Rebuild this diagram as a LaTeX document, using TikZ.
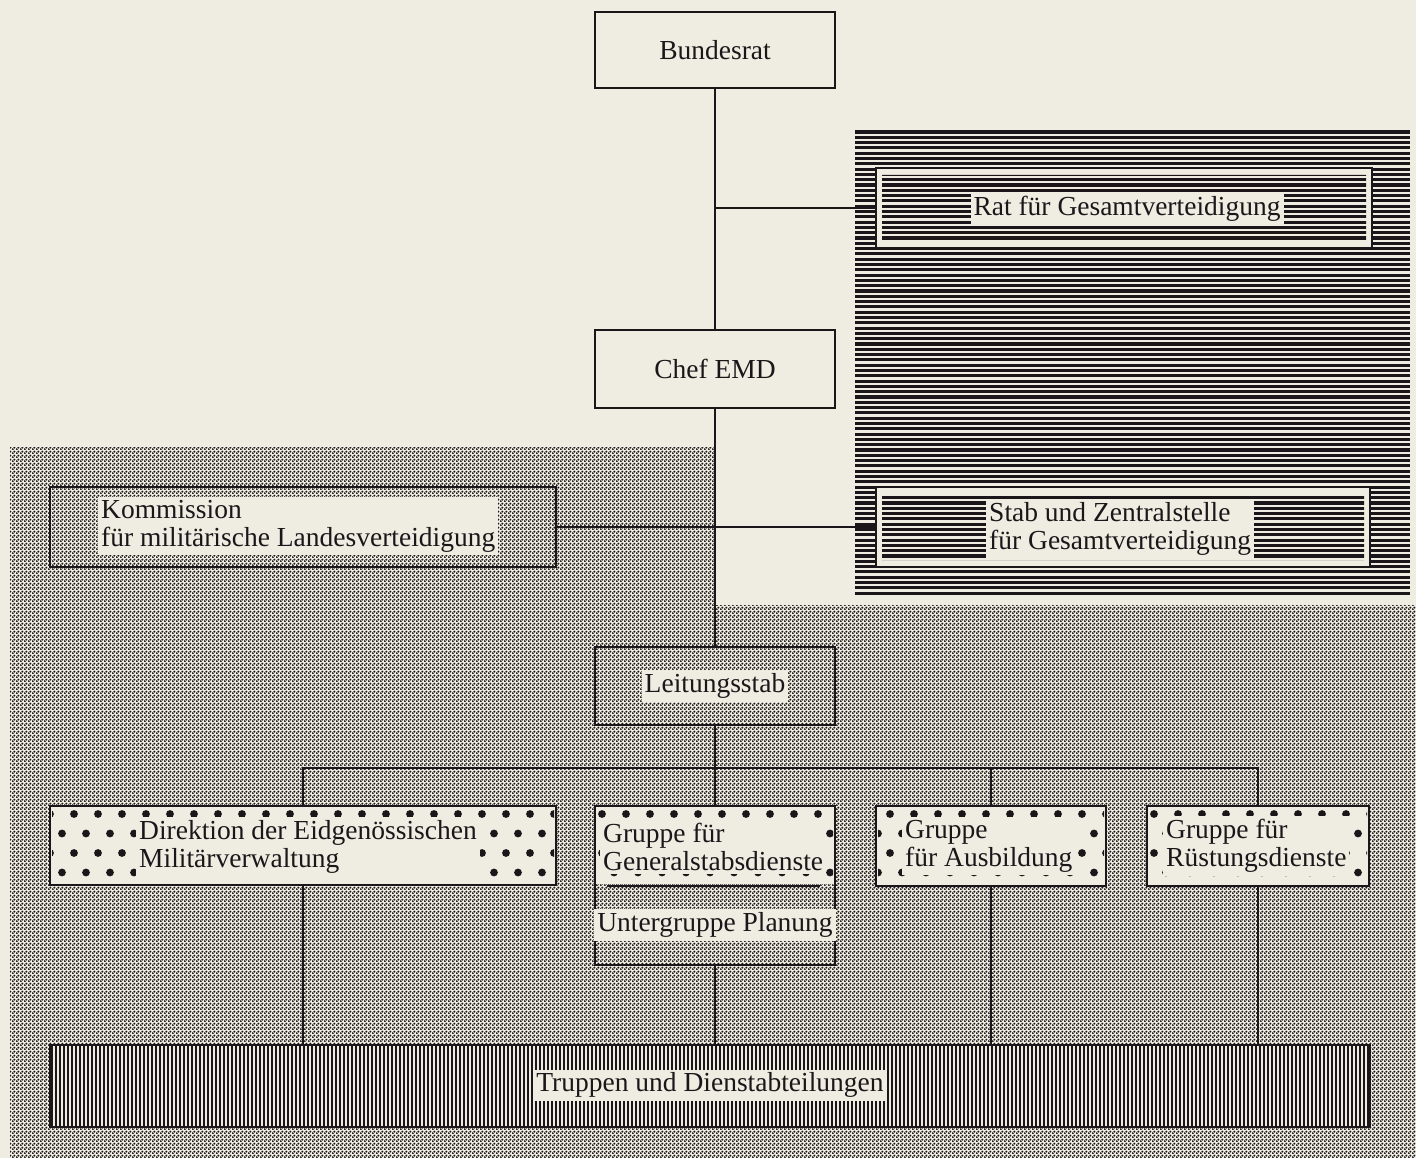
\documentclass[tikz,border=0pt]{standalone}
\usepackage{fontspec}
\setmainfont{Liberation Serif}
\usetikzlibrary{patterns.meta}

\definecolor{paper}{RGB}{239,236,225}
\definecolor{ink}{RGB}{28,22,26}

\tikzdeclarepattern{
  name=halftone,
  type=uncolored,
  bottom left={(0pt,0pt)},
  top right={(4pt,4pt)},
  tile size={(4pt,4pt)},
  code={
    \fill (1pt,1pt) circle [radius=1.35pt];
    \fill (3pt,3pt) circle [radius=1.35pt];
  }
}

\begin{document}
\begin{tikzpicture}[x=1pt,y=-1pt,
    box/.style={draw=ink, line width=2.4pt, inner sep=0pt, outer sep=0pt},
    lbl/.style={fill=paper, text=ink, inner sep=3pt, align=left,
      font=\fontsize{27.5}{28}\selectfont},
    wire/.style={draw=ink, line width=2pt}]
  \fill[paper] (0,0) rectangle (1416,1158);
  \useasboundingbox (0,0) rectangle (1416,1158);
  % raster grounds
  \fill[pattern=halftone, pattern color=ink] (10,447) -- (715,447) -- (715,605)
    -- (1416,605) -- (1416,1158) -- (10,1158) -- cycle;
  \foreach \y in {132,137.3,...,598}
    \draw[ink, line width=3.1pt] (855,\y) -- (1410,\y);

  % boxes
  \node[box, fill=paper, minimum width=240pt, minimum height=76pt, text=ink,
    font=\fontsize{27.5}{28}\selectfont] (bundesrat) at (715,50) {Bundesrat};
  \node[box, fill=paper, minimum width=240pt, minimum height=78pt, text=ink,
    font=\fontsize{27.5}{28}\selectfont] (chef) at (715,369) {Chef EMD};
  \node[box, fill=paper, minimum width=496pt, minimum height=80pt] (rat) at (1124,208) {};
  \node[box, fill=paper, minimum width=494pt, minimum height=80pt] (stab) at (1123,527) {};
  \node[box, minimum width=506pt, minimum height=80pt] (komm) at (303,527) {};
  \node[box, minimum width=240pt, minimum height=78pt] (leit) at (715,686) {};
  \node[box, fill=paper, minimum width=506pt, minimum height=79pt] (direk) at (303,845.5) {};
  \fill[paper] (596,807) rectangle (834,884);
  \node[box, minimum width=240pt, minimum height=159pt] (gen) at (715,885.5) {};
  \node[box, fill=paper, minimum width=230pt, minimum height=80pt] (ausb) at (991,846) {};
  \node[box, fill=paper, minimum width=222pt, minimum height=80pt] (rust) at (1258,846) {};
  \node[box, fill=paper, minimum width=1320pt, minimum height=82pt] (truppen) at (710,1086) {};
  \draw[ink, line width=1.8pt] (607,886) -- (820,886);

  \begin{scope}
    \clip (882,175) rectangle (1366,241) (882,494) rectangle (1364,560);
    \foreach \y in {132,137.3,...,598}
      \draw[ink, line width=3.1pt] (855,\y) -- (1410,\y);
  \end{scope}
  \begin{scope}
    \clip (52,808) rectangle (554,883) (597,808) rectangle (833,881)
      (878,808) rectangle (1104,884) (1149,808) rectangle (1367,884);
    \foreach \k in {0,...,3}
      \foreach \i in {0,...,58}
        \fill[ink] ({2+12*mod(\k,2)+24*\i},{814+19.5*\k}) circle [radius=3.9pt];
  \end{scope}
  \begin{scope}
    \clip (51,1046) rectangle (1369,1126);
    \foreach \x in {52,56,...,1368}
      \draw[ink, line width=2.5pt] (\x,1045) -- (\x,1127);
  \end{scope}

  % connectors
  \coordinate (j-rat) at (bundesrat.south |- rat.west);
  \coordinate (bus) at (715,768);
  \draw[wire] (bundesrat.south) -- (chef.north);
  \draw[wire] (j-rat) -- (rat.west);
  \draw[wire] (chef.south) -- (leit.north);
  \draw[wire] (komm.east) -- (stab.west);
  \draw[wire] (leit.south) -- (bus);
  \draw[wire] (direk.north |- bus) -- (rust.north |- bus);
  \foreach \n in {direk,gen,ausb,rust} {
    \draw[wire] (\n.north |- bus) -- (\n.north);
    \draw[wire] (\n.south) -- (\n.south |- truppen.north);
  }

  % texts
  \node[lbl] (rat-t) at (1127,209) {Rat für Gesamtverteidigung};
  \node[lbl, anchor=west] (komm-t) at (98,526) {Kommission\\für militärische Landesverteidigung};
  \node[lbl, anchor=west] (stab-t) at (986,529) {Stab und Zentralstelle\\für Gesamtverteidigung};
  \node[lbl] (leit-t) at (715,686) {Leitungsstab};
  \node[lbl, anchor=west] (direk-t) at (136,847) {Direktion der Eidgenössischen\\Militärverwaltung};
  \node[lbl, anchor=west] (gen-t) at (600,847) {Gruppe für\\Generalstabsdienste};
  \node[lbl] (plan-t) at (715,925) {Untergruppe Planung};
  \node[lbl, anchor=west] (ausb-t) at (902,846) {Gruppe\\für Ausbildung};
  \node[lbl, anchor=west] (rust-t) at (1163,846) {Gruppe für\\Rüstungsdienste};
  \node[lbl] (trup-t) at (710,1085) {Truppen und Dienstabteilungen};
\end{tikzpicture}
\end{document}
